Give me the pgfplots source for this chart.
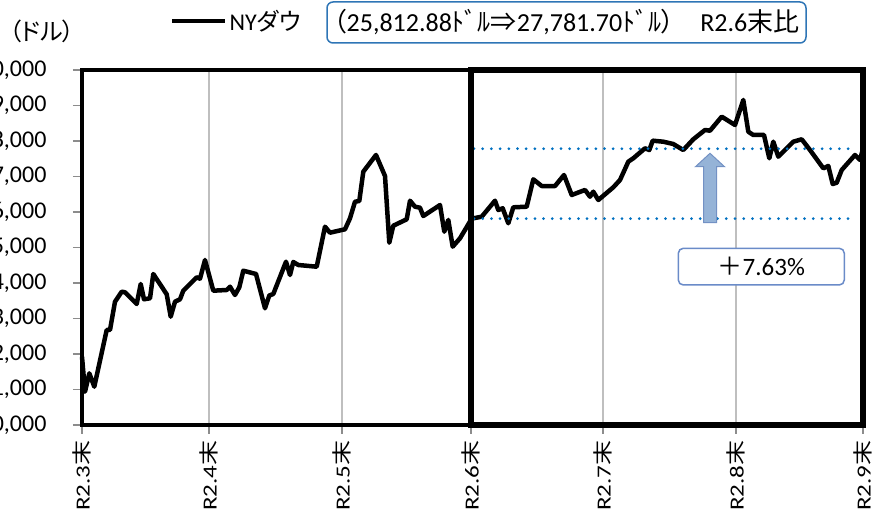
\documentclass[border=0pt]{standalone}
\usepackage{fontspec}
\setmainfont{Carlito}
\newfontfamily\jp[CharacterWidth=AlternateProportional]{Noto Sans CJK JP}
\usepackage{pgfplots}
\pgfplotsset{compat=1.18}
\definecolor{gridgray}{HTML}{BFBFBF}
\definecolor{tickgray}{HTML}{8C8C8C}
\definecolor{dotblue}{HTML}{0070C0}
\definecolor{topblue}{HTML}{2E75B6}
\definecolor{boxblue}{HTML}{6A8BC8}
\definecolor{arrowfill}{HTML}{95B3D7}
\definecolor{arrowdraw}{HTML}{7391C4}
\newcommand{\xl}[1]{\scalebox{1.25}[1]{#1{\jp 末}}}
\begin{document}
\begin{tikzpicture}
\useasboundingbox (-82pt,-93pt) rectangle (793pt,425pt);
\clip (-82pt,-93pt) rectangle (793pt,425pt);
\begin{axis}[
  at={(0pt,0pt)}, anchor=south west,
  scale only axis, width=781pt, height=355pt,
  xmin=0, xmax=781, ymin=20000, ymax=30000,
  clip=false,
  axis line style={line width=4pt, black},
  xtick={0,127,260,389,521,654,781},
  xticklabels={\xl{R2.3},\xl{R2.4},\xl{R2.5},\xl{R2.6},\xl{R2.7},\xl{R2.8},\xl{R2.9}},
  ytick={20000,21000,...,30000},
  xtick pos=bottom, ytick pos=left,
  tick align=outside, major tick length=9pt,
  major tick style={tickgray, line width=1.2pt},
  xmajorgrids, major grid style={gridgray, line width=1.3pt},
  /pgf/number format/assume math mode=true,
  /pgf/number format/1000 sep={,},
  scaled y ticks=false,
  yticklabel style={font=\fontsize{24}{28}\selectfont, anchor=east, xshift=-23pt},
  xticklabel style={font=\fontsize{20}{24}\selectfont, rotate=90, anchor=east, xshift=-3pt},
  legend style={at={(axis description cs:0.1127,1.138)}, anchor=west, draw=none, fill=none, inner sep=0pt,
    font=\fontsize{24}{28}\selectfont, nodes={inner sep=2pt}},
  legend image code/.code={\draw[#1, line width=4.5pt] (0pt,0pt) -- (53pt,0pt);},
]
\addplot[black, line width=4.5pt, line join=round, mark=none] coordinates {
(0,21924) (3,20938) (7.3,21456) (12.3,21079) (24.7,22676) (28,22676) (33,23473)
(39.7,23755) (43,23738) (54.7,23408) (58.7,23972) (62,23541) (68,23569) (71.3,24254)
(84.7,23682) (88.7,23051) (93,23473) (98,23541) (101.3,23783) (114.7,24161) (118,24121)
(123,24648) (131.3,23783) (144.7,23803) (148,23896) (153,23662) (157.3,23879) (161.3,24346)
(174,24254) (183,23287) (187.3,23648) (191.3,23690) (204,24600) (208,24225) (211.3,24592)
(216.3,24507) (234.7,24459) (243,25586) (248,25417) (263,25513) (268,25822) (273,26290)
(277.3,26310) (281.3,27135) (294,27606) (303,27014) (307.3,25135) (311.3,25614) (324.7,25794)
(328,26318) (333,26149) (338,26121) (341.3,25887) (358,26197) (362.3,25445) (366.3,25775)
(370.7,25023) (378,25259) (389.7,25812.88) (399.7,25868) (413,26318) (416.3,26056) (420.7,26104)
(426.3,25682) (431.3,26132) (444.7,26149) (451.3,26921) (459.7,26732) (473,26732) (482,27042)
(489.7,26479) (503,26620) (508,26431) (511.3,26572) (516.3,26338) (531.3,26696) (538,26901)
(546.3,27417) (551.3,27513) (563,27794) (567.3,27746) (570.7,28009) (581.3,27980) (591.3,27915)
(601.3,27746) (611.3,28048) (623,28310) (628,28290) (639.7,28685) (653,28451) (661.3,29155)
(666.3,28262) (671.3,28169) (682,28169) (687.3,27513) (691.3,27980) (696.3,27558) (711.3,27980)
(719.7,28048) (728,27746) (741.3,27231) (746.3,27296) (750.7,26789) (754.7,26825) (759.7,27183)
(773,27606) (778,27465) (781,27781.70)
};
\addlegendentry{NY{\jp ダウ}}
\draw[dotblue, line width=3pt, line cap=round, dash pattern=on 0pt off 8.7pt] (axis cs:392,25812.88) -- (axis cs:773,25812.88);
\draw[dotblue, line width=3pt, line cap=round, dash pattern=on 0pt off 8.7pt] (axis cs:392,27781.70) -- (axis cs:773,27781.70);
\draw[black, line width=5.5pt] (axis cs:389,20000) rectangle (axis cs:781,30000);
\end{axis}
\draw[fill=arrowfill, draw=arrowdraw, line width=1pt] (621.5pt,202.3pt) -- (634.5pt,202.3pt) -- (634.5pt,258.3pt) -- (642.5pt,258.3pt) -- (628pt,271.7pt) -- (613.5pt,258.3pt) -- (621.5pt,258.3pt) -- cycle;
\draw[draw=boxblue, line width=1.5pt, rounded corners=5pt, fill=white] (596.3pt,140pt) rectangle (762.3pt,176.7pt);
\node at (679.3pt,158.3pt) {\fontsize{25}{29}\selectfont{\jp ＋}7.63\%};
\draw[draw=topblue, line width=1.5pt, rounded corners=6pt] (245pt,382pt) rectangle (724pt,423pt);
\node at (484.5pt,402.5pt) {\fontsize{26}{30}\selectfont{\jp （}25,812.88{\jp ﾄﾞﾙ⇒}27,781.70{\jp ﾄﾞﾙ）}\hspace{26pt}R2.6{\jp 末比}};
\node[anchor=west, inner sep=0pt] at (-73pt,394pt) {\fontsize{24}{28}\selectfont{\jp （ドル）}};
\end{tikzpicture}
\end{document}
